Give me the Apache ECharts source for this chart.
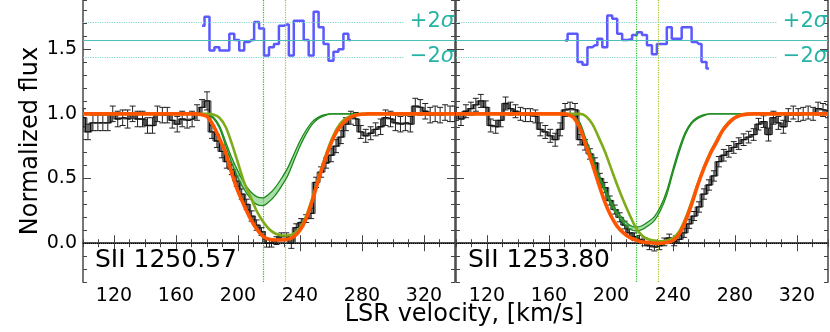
<!DOCTYPE html>
<html><head><meta charset="utf-8">
<script src="https://cdn.jsdelivr.net/npm/echarts@6/dist/echarts.min.js"></script>
<style>html,body{margin:0;padding:0;background:#fff}#c{width:830px;height:332px}</style>
</head><body><div id="c"></div><script>
// ---------------- data ----------------
const velocity = [100.0,103.2,106.4,109.6,112.8,116.0,119.2,122.4,125.6,128.8,
 132.0,135.2,138.4,141.6,144.8,148.0,151.2,154.4,157.6,160.8,
 164.0,167.2,170.4,173.6,176.8,180.0,183.2,186.4,189.6,192.8,
 196.0,199.2,202.4,205.6,208.8,212.0,215.2,218.4,221.6,224.8,
 228.0,231.2,234.4,237.6,240.8,244.0,247.2,250.4,253.6,256.8,
 260.0,263.2,266.4,269.6,272.8,276.0,279.2,282.4,285.6,288.8,
 292.0,295.2,298.4,301.6,304.8,308.0,311.2,314.4,317.6,320.8,
 324.0,327.2,330.4,333.6,336.8,340.0];
const flux1250 = [0.97,0.86,0.93,0.93,0.93,0.93,1.00,0.96,0.97,0.96,
 1.00,0.96,0.96,0.91,0.91,1.00,0.99,0.99,0.95,0.92,
 0.96,0.95,0.96,1.01,1.05,1.10,0.86,0.79,0.71,0.63,
 0.57,0.48,0.38,0.30,0.21,0.14,0.09,0.00,0.00,0.02,
 0.05,0.05,0.00,0.12,0.16,0.19,0.23,0.47,0.55,0.62,
 0.68,0.75,0.82,0.92,0.97,0.96,0.86,0.83,0.85,0.88,
 0.90,0.97,0.96,0.93,0.92,0.93,0.92,1.06,1.05,1.02,
 0.99,1.00,0.99,1.01,1.00,1.00];
const err1250 = [0.07,0.06,0.06,0.06,0.06,0.06,0.06,0.06,0.06,0.07,
 0.06,0.06,0.06,0.06,0.06,0.06,0.06,0.06,0.06,0.06,
 0.06,0.06,0.06,0.06,0.06,0.07,0.05,0.05,0.05,0.05,
 0.04,0.04,0.04,0.04,0.04,0.04,0.03,0.03,0.03,0.03,
 0.03,0.03,0.04,0.03,0.03,0.03,0.04,0.04,0.04,0.04,
 0.05,0.05,0.05,0.05,0.05,0.05,0.05,0.05,0.05,0.05,
 0.06,0.06,0.06,0.06,0.06,0.06,0.06,0.06,0.06,0.06,
 0.06,0.06,0.06,0.06,0.06,0.06];
const flux1253 = [1.00,0.96,1.02,1.04,1.07,1.10,1.05,0.91,0.90,0.95,
 1.08,1.04,1.02,1.00,0.99,0.99,0.98,0.88,0.86,0.83,
 0.80,0.88,1.03,1.04,1.03,0.80,0.76,0.69,0.62,0.50,
 0.43,0.33,0.26,0.20,0.14,0.08,0.05,0.03,0.01,-0.02,
 -0.03,-0.02,0.01,0.04,0.01,0.03,0.08,0.15,0.21,0.28,
 0.38,0.45,0.52,0.63,0.68,0.71,0.74,0.77,0.80,0.82,
 0.84,0.92,0.94,0.84,0.97,0.93,0.90,0.99,1.01,0.99,
 1.00,1.01,1.00,1.04,1.03,1.02];
const err1253 = [0.05,0.05,0.05,0.05,0.05,0.05,0.05,0.05,0.05,0.05,
 0.05,0.05,0.05,0.05,0.05,0.05,0.05,0.05,0.05,0.05,
 0.05,0.05,0.05,0.05,0.05,0.04,0.04,0.04,0.04,0.04,
 0.04,0.035,0.035,0.035,0.03,0.03,0.03,0.03,0.03,0.03,
 0.03,0.03,0.03,0.03,0.03,0.03,0.035,0.035,0.035,0.04,
 0.04,0.04,0.04,0.04,0.045,0.045,0.045,0.045,0.045,0.045,
 0.045,0.045,0.045,0.05,0.05,0.05,0.05,0.05,0.05,0.05,
 0.05,0.05,0.05,0.05,0.05,0.05];

const resV1250 = [176.8,180.0,183.2,186.4,189.6,192.8,196.0,199.2,202.4,205.6,208.8,212.0,215.2,218.4,221.6,224.8,228.0,231.2,234.4,237.6,240.8,244.0,247.2,250.4,253.6,256.8,260.0,263.2,266.4,269.6,272.8];
const resid1250 = [1.68,1.75,1.49,1.515,1.49,1.49,1.62,1.57,1.49,1.555,1.57,1.71,1.66,1.45,1.515,1.54,1.68,1.69,1.45,1.72,1.72,1.57,1.45,1.79,1.67,1.54,1.41,1.48,1.50,1.62,1.57];
const resV1253 = [170.4,173.6,176.8,180.0,183.2,186.4,189.6,192.8,196.0,199.2,202.4,205.6,208.8,212.0,215.2,218.4,221.6,224.8,228.0,231.2,234.4,237.6,240.8,244.0,247.2,250.4,253.6,256.8,260.0,263.2];
const resid1253 = [1.567,1.62,1.62,1.40,1.38,1.515,1.53,1.58,1.515,1.76,1.735,1.62,1.57,1.575,1.61,1.63,1.61,1.53,1.46,1.54,1.54,1.67,1.58,1.58,1.67,1.67,1.555,1.54,1.40,1.35];

const modelV = [100,160,164,168,172,176,180,184,188,192,196,200,204,208,212,216,220,224,228,232,236,240,244,248,252,256,260,264,268,272,276,280,284,288,292,300,340];
const total1250 = [1,1,1,1,1,0.995,0.98,0.91,0.81,0.70,0.54,0.40,0.29,0.19,0.11,0.055,0.03,0.025,0.025,0.03,0.05,0.10,0.19,0.33,0.49,0.64,0.77,0.87,0.93,0.97,0.99,0.997,1,1,1,1,1];
const c1Hi1250 = [1,1,1,1,1,1,0.997,0.975,0.91,0.785,0.66,0.555,0.465,0.40,0.36,0.35,0.38,0.43,0.50,0.58,0.685,0.79,0.875,0.94,0.975,0.993,1,1,1,1,1,1,1,1,1,1,1];
const c1Lo1250 = [1,1,1,1,1,1,0.993,0.965,0.89,0.755,0.62,0.505,0.415,0.345,0.30,0.29,0.32,0.37,0.44,0.52,0.635,0.75,0.845,0.92,0.965,0.987,1,1,1,1,1,1,1,1,1,1,1];
const c2_1250 = [1,1,1,1,1,1,1.0,0.995,0.97,0.90,0.77,0.62,0.47,0.36,0.25,0.17,0.11,0.075,0.06,0.06,0.075,0.12,0.21,0.35,0.51,0.66,0.79,0.89,0.95,0.98,0.995,1,1,1,1,1,1];
const total1253 = [1,1,1,1,0.995,0.97,0.89,0.75,0.61,0.46,0.32,0.21,0.13,0.08,0.045,0.025,0.01,0.005,0,0,0.005,0.02,0.07,0.17,0.30,0.45,0.58,0.69,0.78,0.87,0.93,0.97,0.99,0.998,1,1,1];
const c1Hi1253 = [1,1,1,1,1,0.985,0.93,0.80,0.67,0.535,0.43,0.325,0.245,0.185,0.14,0.125,0.135,0.165,0.205,0.285,0.405,0.575,0.735,0.86,0.935,0.975,0.993,1,1,1,1,1,1,1,1,1,1];
const c1Lo1253 = [1,1,1,1,0.998,0.975,0.91,0.78,0.645,0.505,0.40,0.295,0.215,0.155,0.11,0.095,0.105,0.135,0.175,0.255,0.375,0.545,0.705,0.84,0.925,0.965,0.987,1,1,1,1,1,1,1,1,1,1];
const c2_1253 = [1,1,1,1,1,1,1.0,0.98,0.92,0.82,0.71,0.58,0.45,0.33,0.22,0.12,0.06,0.03,0.02,0.015,0.02,0.04,0.09,0.19,0.32,0.46,0.59,0.70,0.79,0.875,0.935,0.975,0.99,1,1,1,1];

const compCenters = [216, 230.5];
const sigmaLevels = [1.44, 1.575, 1.71];   // -2σ, centre, +2σ
const sigmaDotEnd = 307;
const xMajorTicks = [120,160,200,240,280,320];
const yMajorTicks = [0, 0.5, 1.0, 1.5];
const panelLabels = ['SII 1250.57', 'SII 1253.80'];

// ---------------- chart ----------------
const X_MIN = 100, X_MAX = 340, Y_MIN = -0.3, Y_MAX = 1.88;
const AX = '#444';
const FONT = 'DejaVu Sans';
const zip = (a, b) => a.map((x, i) => [x, b[i]]);

function xAxes(g) {
  const base = {type:'value', gridIndex:g, min:X_MIN, max:X_MAX, splitLine:{show:false}};
  return [
    {...base, position:'bottom', axisLine:{show:true, lineStyle:{color:AX, width:1.5}},
      axisTick:{show:true, inside:true, length:8, customValues:xMajorTicks, lineStyle:{color:AX, width:1}},
      axisLabel:{show:true, customValues:xMajorTicks, fontSize:19, color:'#000', margin:5, fontFamily:FONT}},
    {...base, position:'bottom', interval:10, axisLine:{show:false},
      axisTick:{show:true, inside:true, length:4, lineStyle:{color:AX, width:1}}, axisLabel:{show:false}},
    {...base, position:'top', axisLine:{show:true, lineStyle:{color:AX, width:1.5}},
      axisTick:{show:true, inside:true, length:8, customValues:xMajorTicks, lineStyle:{color:AX, width:1}}, axisLabel:{show:false}},
    {...base, position:'top', interval:10, axisLine:{show:false},
      axisTick:{show:true, inside:true, length:4, lineStyle:{color:AX, width:1}}, axisLabel:{show:false}}
  ];
}
function yAxes(g, labels) {
  const base = {type:'value', gridIndex:g, min:Y_MIN, max:Y_MAX, splitLine:{show:false}};
  const main = {...base, position:'left', axisLine:{show:true, lineStyle:{color:labels ? '#777' : AX, width:labels ? 2 : 1.5}},
      axisTick:{show:true, inside:true, length:8, customValues:yMajorTicks, lineStyle:{color:AX, width:1}},
      axisLabel:{show:labels, customValues:yMajorTicks, fontSize:19, color:'#000', margin:6, fontFamily:FONT,
                 formatter: v => Number(v).toFixed(1)}};
  if (labels) {
    main.name = 'Normalized flux';
    main.nameLocation = 'middle';
    main.nameGap = 38;
    main.nameTextStyle = {fontSize:24, color:'#000', fontFamily:FONT};
  }
  return [
    main,
    {...base, position:'left', interval:0.1, axisLine:{show:false},
      axisTick:{show:true, inside:true, length:4, lineStyle:{color:AX, width:1}}, axisLabel:{show:false}},
    {...base, position:'right', axisLine:{show:true, lineStyle:{color:AX, width:1.5}},
      axisTick:{show:true, inside:true, length:8, customValues:yMajorTicks, lineStyle:{color:AX, width:1}}, axisLabel:{show:false}},
    {...base, position:'right', interval:0.1, axisLine:{show:false},
      axisTick:{show:true, inside:true, length:4, lineStyle:{color:AX, width:1}}, axisLabel:{show:false}}
  ];
}

const TEAL = '#26b3a5';
const sigLabel = (txt) => ({
  show:true, position:'end', distance:6, formatter: txt,
  rich:{n:{fontSize:21, color:TEAL, fontFamily:FONT}, s:{fontSize:21, color:TEAL, fontFamily:FONT, fontStyle:'italic'}}
});

function panelSeries(g, flux, err, resV, resid, total, c1Hi, c1Lo, c2) {
  const xi = 4*g, yi = 4*g;
  const sigDot = {color:'#7fd6cf', width:1.2, type:'dotted'};
  return [
    { // residuals
      type:'line', xAxisIndex:xi, yAxisIndex:yi, step:'middle', symbol:'none', silent:true,
      data: zip(resV, resid), lineStyle:{color:'#5a5aff', width:2.5}, z:3
    },
    { // step transition boxes of the histogram
      type:'custom', xAxisIndex:xi, yAxisIndex:yi, silent:true, z:3, clip:true,
      data: velocity.slice(0, -1).map((v, i) => [(v + velocity[i+1]) / 2, flux[i], flux[i+1]]),
      encode:{x:0, y:[1,2]},
      renderItem:(params, api) => {
        const a = api.coord([api.value(0), api.value(1)]);
        const b = api.coord([api.value(0), api.value(2)]);
        const y0 = Math.min(a[1], b[1]), h = Math.abs(a[1] - b[1]);
        return {type:'rect', shape:{x:a[0] - 1.5, y:y0, width:3, height:h},
                style:{fill:'#b8b8b8', stroke:'#222', lineWidth:0.8}};
      }
    },
    { // data histogram
      type:'line', xAxisIndex:xi, yAxisIndex:yi, step:'middle', symbol:'none', silent:true,
      data: zip(velocity, flux), lineStyle:{color:'#111', width:1.3}, z:4,
      markLine:{
        silent:true, symbol:'none', animation:false, label:{show:false},
        data:[
          {xAxis: compCenters[0], lineStyle:{color:'#22c022', width:1.2, type:'dotted'}},
          {xAxis: compCenters[1], lineStyle:{color:'#a8c020', width:1.2, type:'dotted'}},
          {yAxis: 0, lineStyle:{color:'#000', width:1, type:'dotted'}},
          {yAxis: sigmaLevels[1], lineStyle:{color:'#4cc0b8', width:1, type:'solid'}},
          [{coord:[X_MIN, sigmaLevels[2]], lineStyle:sigDot, label:sigLabel('{n|+2}{s|σ}')},
           {coord:[sigmaDotEnd, sigmaLevels[2]]}],
          [{coord:[X_MIN, sigmaLevels[0]], lineStyle:sigDot, label:sigLabel('{n|−2}{s|σ}')},
           {coord:[sigmaDotEnd, sigmaLevels[0]]}]
        ]
      }
    },
    { // error bars
      type:'custom', xAxisIndex:xi, yAxisIndex:yi, silent:true, z:4, clip:true,
      data: velocity.map((v, i) => [v, flux[i] - err[i], flux[i] + err[i]]),
      encode:{x:0, y:[1,2]},
      renderItem:(params, api) => {
        const lo = api.coord([api.value(0), api.value(1)]);
        const hi = api.coord([api.value(0), api.value(2)]);
        const w = 3, st = {stroke:'#222', lineWidth:1};
        return {type:'group', children:[
          {type:'line', shape:{x1:lo[0], y1:lo[1], x2:hi[0], y2:hi[1]}, style:st},
          {type:'line', shape:{x1:lo[0]-w, y1:lo[1], x2:lo[0]+w, y2:lo[1]}, style:st},
          {type:'line', shape:{x1:hi[0]-w, y1:hi[1], x2:hi[0]+w, y2:hi[1]}, style:st}
        ]};
      }
    },
    { // component 1 uncertainty band (fill)
      type:'custom', xAxisIndex:xi, yAxisIndex:yi, silent:true, z:5, clip:true,
      data: modelV.map((v, i) => [v, c1Lo[i], c1Hi[i]]),
      encode:{x:0, y:[1,2]},
      renderItem:(params, api) => {
        if (params.dataIndex !== 0) return null;
        const pts = [];
        for (let i = 0; i < modelV.length; i++) pts.push(api.coord([modelV[i], c1Hi[i]]));
        for (let i = modelV.length - 1; i >= 0; i--) pts.push(api.coord([modelV[i], c1Lo[i]]));
        return {type:'polygon', shape:{points:pts, smooth:0.25}, style:{fill:'rgba(110,200,110,0.6)', stroke:null}};
      }
    },
    { // component 1 lower edge
      type:'line', xAxisIndex:xi, yAxisIndex:yi, symbol:'none', smooth:0.3, silent:true,
      data: zip(modelV, c1Lo), lineStyle:{color:'#1c8a1c', width:1.3}, z:5
    },
    { // component 1 upper edge
      type:'line', xAxisIndex:xi, yAxisIndex:yi, symbol:'none', smooth:0.3, silent:true,
      data: zip(modelV, c1Hi), lineStyle:{color:'#1c8a1c', width:1.3}, z:5
    },
    { // component 2
      type:'line', xAxisIndex:xi, yAxisIndex:yi, symbol:'none', smooth:0.3, silent:true,
      data: zip(modelV, c2), lineStyle:{color:'#7fab18', width:2.6}, z:6
    },
    { // total model
      type:'line', xAxisIndex:xi, yAxisIndex:yi, symbol:'none', smooth:0.3, silent:true,
      data: zip(modelV, total), lineStyle:{color:'#ff5500', width:3.6}, z:7
    }
  ];
}

const chart = echarts.init(document.getElementById('c'), null, {renderer:'canvas'});
chart.setOption({
  animation:false,
  backgroundColor:'#fff',
  textStyle:{fontFamily:FONT},
  grid:[
    {left:83, top:0, width:372, height:282, show:false},
    {left:456, top:0, width:372, height:282, show:false}
  ],
  xAxis:[...xAxes(0), ...xAxes(1)],
  yAxis:[...yAxes(0, true), ...yAxes(1, false)],
  series:[
    ...panelSeries(0, flux1250, err1250, resV1250, resid1250, total1250, c1Hi1250, c1Lo1250, c2_1250),
    ...panelSeries(1, flux1253, err1253, resV1253, resid1253, total1253, c1Hi1253, c1Lo1253, c2_1253)
  ],
  graphic:[
    {type:'text', left:95, top:248, style:{text:panelLabels[0], fontSize:25, fill:'#000', fontFamily:FONT}, z:20},
    {type:'text', left:468, top:248, style:{text:panelLabels[1], fontSize:25, fill:'#000', fontFamily:FONT}, z:20},
    {type:'text', x:464, y:303, style:{text:'LSR velocity, [km/s]', fontSize:24, fill:'#000', fontFamily:FONT, textAlign:'center'}, z:20}
  ]
});
</script></body></html>
